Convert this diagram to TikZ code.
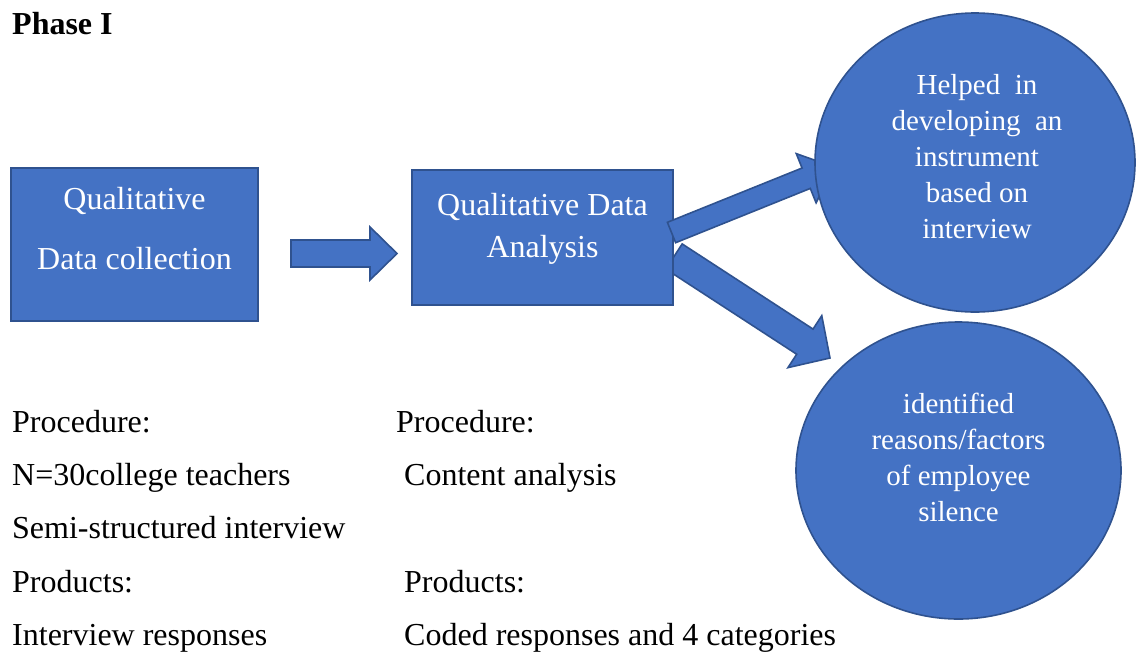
\documentclass[tikz,border=0pt]{standalone}
\usepackage{fontspec}
\setmainfont{Liberation Serif}
\usepackage{tikz}
\usetikzlibrary{calc, shapes.geometric}
\definecolor{boxblue}{HTML}{4472C4}
\definecolor{edgeblue}{HTML}{2F528F}

% fat block arrow: tail, tip, shaft half width, head half width, head length
\newcommand{\fatarrow}[5]{%
  \path let \p1=(#1), \p2=(#2) in
    \pgfextra{\pgfmathsetmacro\arrang{atan2(\y2-\y1,\x2-\x1)}%
      \pgfmathsetmacro\arrlen{veclen(\x2-\x1,\y2-\y1)}%
      \global\let\arrang\arrang \global\let\arrlen\arrlen};
  \filldraw[blockarrow, shift={(#1)}, rotate=\arrang]
    (0,-#3) -- (\arrlen-#5,-#3) -- (\arrlen-#5,-#4) -- (\arrlen,0)
    -- (\arrlen-#5,#4) -- (\arrlen-#5,#3) -- (0,#3) -- cycle;
}

\begin{document}
\begin{tikzpicture}[x=1pt, y=1pt,
    shapebox/.style={rectangle, draw=edgeblue, fill=boxblue, line width=1.6pt, inner sep=0pt},
    shapeoval/.style={ellipse, draw=edgeblue, fill=boxblue, line width=1.6pt, inner sep=0pt},
    blockarrow/.style={draw=edgeblue, fill=boxblue, line width=1.6pt, line join=miter},
    boxtext/.style={text=white, align=center, inner sep=0pt, font=\fontsize{32}{42}\selectfont},
    ovaltext/.style={text=white, align=center, inner sep=0pt, font=\fontsize{29}{36}\selectfont},
    notetext/.style={anchor=base west, inner sep=0pt, font=\fontsize{32}{38}\selectfont}]
  \useasboundingbox (0,0) rectangle (1136,-657);

  \node[notetext, font=\fontsize{32}{38}\selectfont\bfseries] (phase) at (12,-34) {Phase I};

  % arrow ends
  \coordinate (collectOut) at (291,-253.5);
  \coordinate (analysisIn) at (397,-253.5);
  \coordinate (analysisUp) at (671.5,-232.5);
  \coordinate (helpedIn) at (834,-167);
  \coordinate (analysisDown) at (674,-256.5);
  \coordinate (reasonsIn) at (830,-358);

  \fatarrow{analysisDown}{reasonsIn}{15}{31}{30}

  \node[shapebox, minimum width=247pt, minimum height=153pt] (collect) at (134.5,-244.5) {};
  \node[boxtext, font=\fontsize{32}{60}\selectfont] (collectText) at (134.5,-229) {Qualitative\\Data collection};
  \node[shapebox, minimum width=261pt, minimum height=135pt] (analysis) at (542.5,-237.5) {};
  \node[boxtext] (analysisText) at (542.5,-228.5) {Qualitative Data\\Analysis};

  \fatarrow{collectOut}{analysisIn}{13.5}{26.5}{27}
  \fatarrow{analysisUp}{helpedIn}{11}{26.5}{30}

  \node[shapeoval, minimum width=320pt, minimum height=299pt] (helped) at (975,-162.5) {};
  \node[ovaltext] (helpedText) at (977,-157) {Helped\ \ in\\developing\ \ an\\instrument\\based on\\interview};
  \node[shapeoval, minimum width=325pt, minimum height=297pt] (reasons) at (958.5,-470.5) {};
  \node[ovaltext] (reasonsText) at (958.5,-457) {identified\\reasons/factors\\of employee\\silence};

  % procedure and products
  \node[notetext] (procA) at (12,-432) {Procedure:};
  \node[notetext] (sampleA) at (12,-485) {N=30college teachers};
  \node[notetext] (methodA) at (12,-538) {Semi-structured interview};
  \node[notetext] (prodA) at (12,-592) {Products:};
  \node[notetext] (outA) at (12,-645) {Interview responses};
  \node[notetext] (procB) at (396,-432) {Procedure:};
  \node[notetext] (methodB) at (404,-485) {Content analysis};
  \node[notetext] (prodB) at (404,-592) {Products:};
  \node[notetext] (outB) at (404,-645) {Coded responses and 4 categories};
\end{tikzpicture}
\end{document}
